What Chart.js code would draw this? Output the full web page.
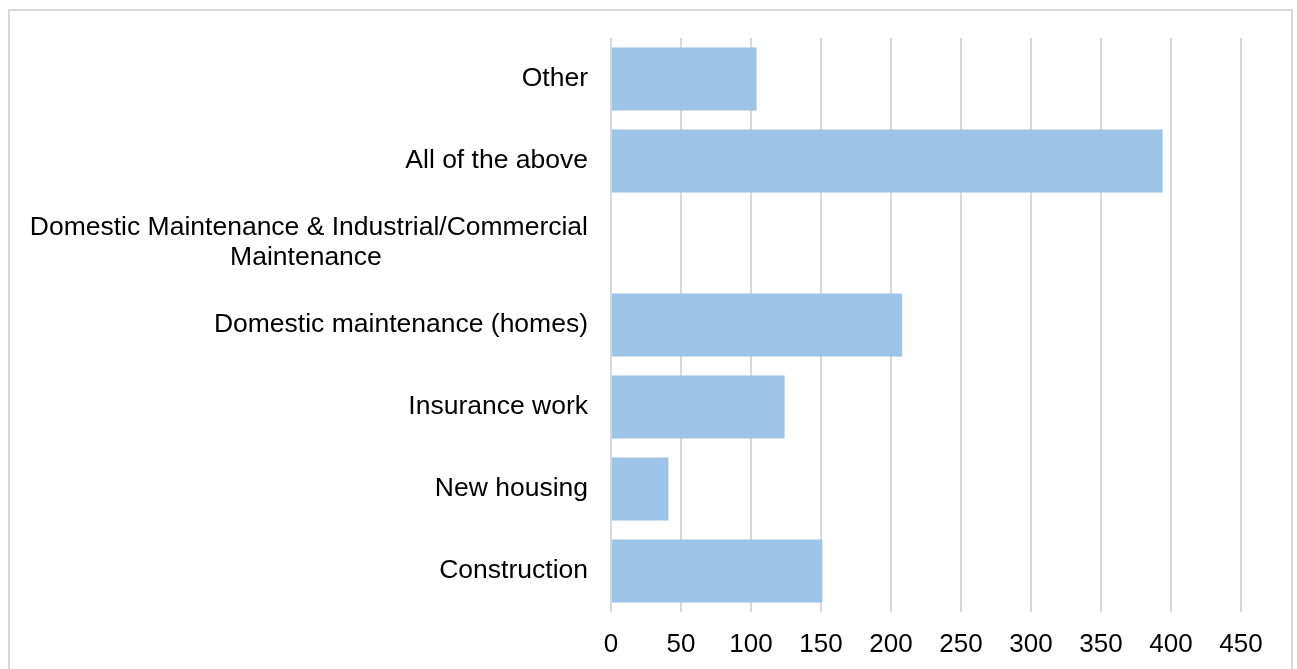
<!DOCTYPE html>
<html>
<head>
<meta charset="utf-8">
<script src="https://cdn.jsdelivr.net/npm/chart.js@4"></script>
<style>
  html, body { margin: 0; padding: 0; background: #fff; overflow: hidden; }
  #wrap { position: relative; width: 1297px; height: 669px; }
  #frame { position: absolute; left: 8px; top: 9px; width: 1285px; height: 700px;
           border: 2px solid #d9d9d9; box-sizing: border-box; pointer-events: none; }
  canvas { position: absolute; left: 0; top: 0; }
</style>
</head>
<body>
<div id="wrap">
  <canvas id="chart" width="1297" height="669"></canvas>
  <div id="frame"></div>
</div>
<script>
// Work type categories, top to bottom
const categories = [
  'Other',
  'All of the above',
  ['Domestic Maintenance & Industrial/Commercial', 'Maintenance' + ' '.repeat(28)],
  'Domestic maintenance (homes)',
  'Insurance work',
  'New housing',
  'Construction'
];
// Number of responses per category
const responses = [104, 394, 0, 208, 124, 41, 151];
// Value axis range and step
const axisMin = 0;
const axisMax = 450;
const axisStep = 50;

const FONT = 'Liberation Sans, Arial, Helvetica, sans-serif';

new Chart(document.getElementById('chart'), {
  type: 'bar',
  data: {
    labels: categories,
    datasets: [{
      data: responses,
      backgroundColor: '#9dc3e6',
      borderWidth: 0,
      categoryPercentage: 1.0,
      barPercentage: 0.77
    }]
  },
  options: {
    indexAxis: 'y',
    responsive: false,
    animation: false,
    devicePixelRatio: 1,
    layout: { padding: { top: 38, right: 56, bottom: 0, left: 0 } },
    plugins: { legend: { display: false }, tooltip: { enabled: false } },
    scales: {
      x: {
        min: axisMin,
        max: axisMax,
        ticks: {
          stepSize: axisStep,
          color: '#000',
          padding: 17,
          font: { family: FONT, size: 26, lineHeight: 1.2 }
        },
        grid: { color: '#d9d9d9', lineWidth: 2, drawTicks: false },
        border: { display: false },
        afterFit: (s) => { s.height = 57; }
      },
      y: {
        ticks: {
          color: '#000',
          padding: 23,
          font: { family: FONT, size: 26.5, lineHeight: 1.13 }
        },
        grid: { display: false, drawTicks: false },
        border: { display: false },
        afterFit: (s) => { s.width = 611; }
      }
    }
  }
});
</script>
</body>
</html>
